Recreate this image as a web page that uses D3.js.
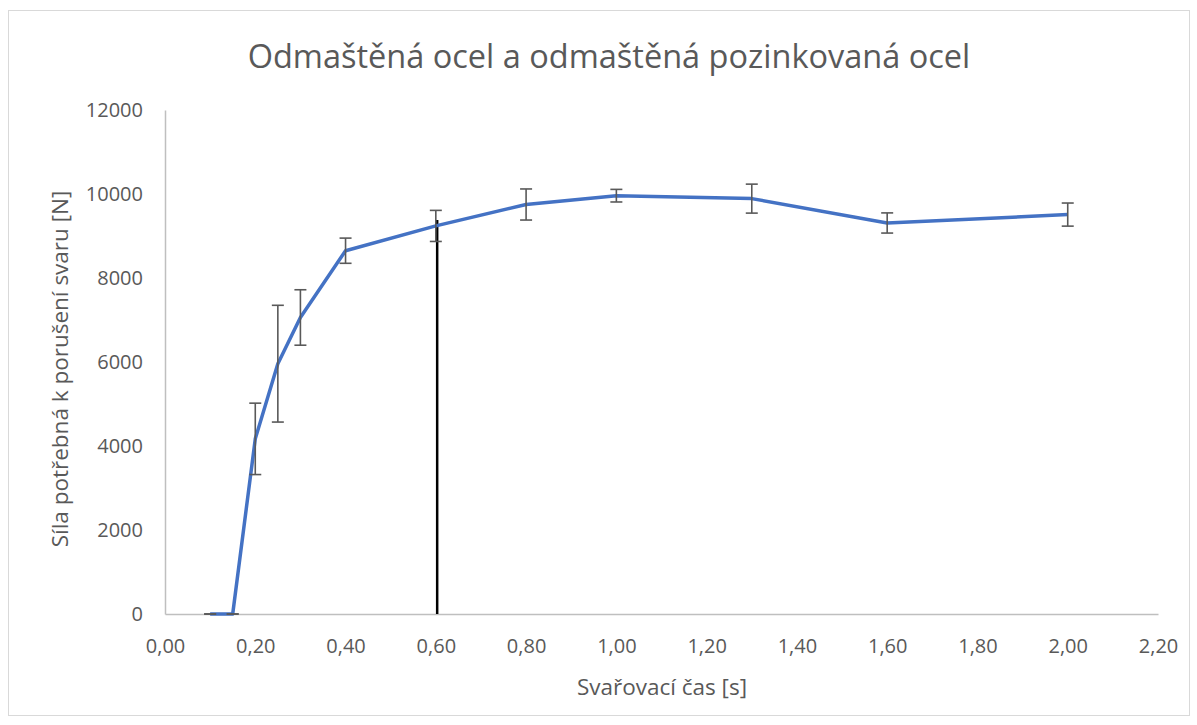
<!DOCTYPE html>
<html>
<head>
<meta charset="utf-8">
<script src="https://cdn.jsdelivr.net/npm/d3@7"></script>
<style>
  body { margin: 0; background: #fff; }
  text { font-family: "Open Sans", "Noto Sans", sans-serif; fill: #595959; }
</style>
</head>
<body>
<div id="chart"></div>
<script>
// measured values
var times = [0.10, 0.15, 0.20, 0.25, 0.30, 0.40, 0.60, 0.80, 1.00, 1.30, 1.60, 2.00];
var forces = [0, 0, 4170, 5960, 7060, 8650, 9240, 9750, 9960, 9890, 9310, 9510];
var errors = [0, 0, 850, 1390, 660, 300, 370, 370, 150, 345, 240, 275];
var xTicks = [0, 0.2, 0.4, 0.6, 0.8, 1.0, 1.2, 1.4, 1.6, 1.8, 2.0, 2.2];
var yTicks = [0, 2000, 4000, 6000, 8000, 10000, 12000];
var markerX = [0.603];
var markerTop = [9380];

var width = 1197, height = 725;
var mLeft = 165, mRight = 1158, mTop = 110, mBottom = 614;

var svg = d3.select('#chart').append('svg')
  .attr('width', width)
  .attr('height', height);

// outer frame
svg.append('rect')
  .attr('x', 8.5).attr('y', 10.5)
  .attr('width', 1181).attr('height', 705)
  .attr('fill', 'none')
  .attr('stroke', '#d9d9d9');

var x = d3.scaleLinear().domain([0, 2.2]).range([mLeft, mRight]);
var y = d3.scaleLinear().domain([0, 12000]).range([mBottom, mTop]);

// x axis
var xAxis = svg.append('g')
  .attr('transform', 'translate(0,' + mBottom + ')')
  .call(d3.axisBottom(x).tickValues(xTicks).tickSize(0).tickPadding(25)
    .tickFormat(function(d) { return d.toFixed(2).replace('.', ','); }));
xAxis.select('.domain').attr('stroke', '#bfbfbf').attr('stroke-width', 1.5);
xAxis.selectAll('text').style('font-size', '20px').attr('fill', '#595959');

// y axis
var yAxis = svg.append('g')
  .attr('transform', 'translate(' + mLeft + ',0)')
  .call(d3.axisLeft(y).tickValues(yTicks).tickSize(0).tickPadding(22).tickFormat(d3.format('d')));
yAxis.select('.domain').attr('stroke', '#bfbfbf').attr('stroke-width', 1.5);
yAxis.selectAll('text').style('font-size', '20px').attr('fill', '#595959');

// vertical marker line
svg.selectAll('.marker')
  .data(markerX)
  .enter().append('line')
  .attr('x1', function(d) { return x(d); })
  .attr('x2', function(d) { return x(d); })
  .attr('y1', y(0))
  .attr('y2', function(d, i) { return y(markerTop[i]); })
  .attr('stroke', '#000')
  .attr('stroke-width', 2.5);

var data = times.map(function(t, i) { return { t: t, f: forces[i], e: errors[i] }; });

// data line
svg.append('path')
  .datum(data)
  .attr('fill', 'none')
  .attr('stroke', '#4472c4')
  .attr('stroke-width', 3.5)
  .attr('stroke-linejoin', 'round')
  .attr('d', d3.line().x(function(d) { return x(d.t); }).y(function(d) { return y(d.f); }));

// error bars
var cap = 6;
var eb = svg.selectAll('.err').data(data).enter().append('g').attr('class', 'err')
  .attr('stroke', '#595959').attr('stroke-width', 1.6);
eb.append('line')
  .attr('x1', function(d) { return x(d.t); }).attr('x2', function(d) { return x(d.t); })
  .attr('y1', function(d) { return y(d.f + d.e); }).attr('y2', function(d) { return y(d.f - d.e); });
eb.append('line')
  .attr('x1', function(d) { return x(d.t) - cap; }).attr('x2', function(d) { return x(d.t) + cap; })
  .attr('y1', function(d) { return y(d.f + d.e); }).attr('y2', function(d) { return y(d.f + d.e); });
eb.append('line')
  .attr('x1', function(d) { return x(d.t) - cap; }).attr('x2', function(d) { return x(d.t) + cap; })
  .attr('y1', function(d) { return y(d.f - d.e); }).attr('y2', function(d) { return y(d.f - d.e); });

// title
svg.append('text')
  .attr('x', 609).attr('y', 68)
  .attr('text-anchor', 'middle')
  .style('font-size', '32.5px')
  .text('Odmaštěná ocel a odmaštěná pozinkovaná ocel');

// axis titles
svg.append('text')
  .attr('x', 662).attr('y', 695)
  .attr('text-anchor', 'middle')
  .style('font-size', '22.5px')
  .text('Svařovací čas [s]');

svg.append('text')
  .attr('transform', 'translate(68,' + 369 + ') rotate(-90)')
  .attr('text-anchor', 'middle')
  .style('font-size', '22.5px')
  .text('Síla potřebná k porušení svaru [N]');
</script>
</body>
</html>
